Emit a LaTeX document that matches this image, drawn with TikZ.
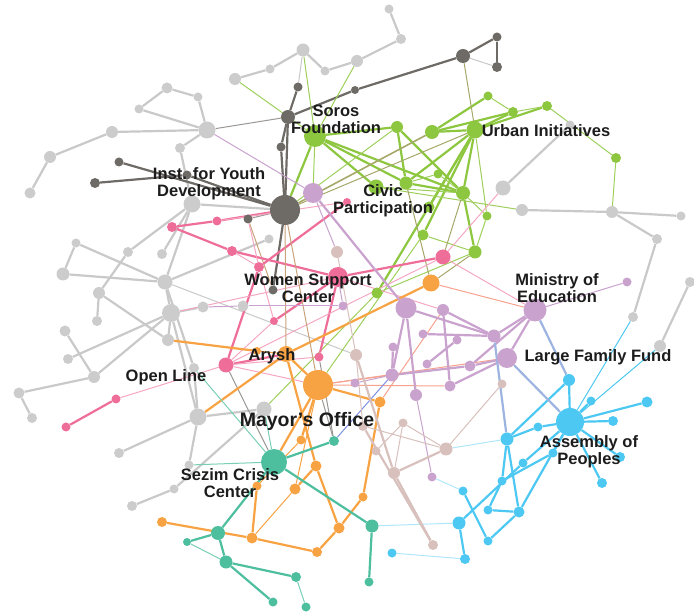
\documentclass[tikz,border=0pt]{standalone}
\usepackage{fontspec}
\setmainfont{Liberation Sans}
\pgfdeclarelayer{bg}
\pgfsetlayers{bg,main}
\definecolor{cgray}{HTML}{CCCCCC}
\definecolor{cgrayE}{HTML}{C9C9C9}
\definecolor{cdark}{HTML}{6E6A66}
\definecolor{cgreen}{HTML}{8DC63F}
\definecolor{cgreenL}{HTML}{B5DC86}
\definecolor{cpink}{HTML}{EE6D99}
\definecolor{cpinkL}{HTML}{F5A7C2}
\definecolor{cpurple}{HTML}{C9A2CE}
\definecolor{corange}{HTML}{F8A343}
\definecolor{csalmon}{HTML}{F6A28E}
\definecolor{cteal}{HTML}{4DBE9E}
\definecolor{cblue}{HTML}{4DC8F2}
\definecolor{cblueP}{HTML}{9DB4E0}
\definecolor{ctaupe}{HTML}{D8C0BC}
\definecolor{colive}{HTML}{A6A86A}
\definecolor{ctan}{HTML}{C8A27A}
\definecolor{ctext}{HTML}{1C1C1C}
\newcommand\mynd[5]{\node[dot,fill=#5,minimum size=#4pt] (#1) at (#2,#3) {};}
\tikzset{
  dot/.style={circle,inner sep=0pt,draw=none},
  thk/.style={line width=2.2pt},
  thn/.style={line width=1pt},
  lbl/.style={font=\bfseries\fontsize{16.5}{17}\selectfont,text=ctext,align=center,inner sep=0pt},
  lblbig/.style={font=\bfseries\fontsize{19.5}{20}\selectfont,text=ctext,align=center,inner sep=0pt}
}
\begin{document}
\begin{tikzpicture}[x=1pt,y=-1pt]
\useasboundingbox (0,0) rectangle (694,612);
% gray nodes
\mynd{g1}{303}{50}{13}{cgray}
\mynd{g2}{270}{69}{9}{cgray}
\mynd{g3}{325}{71}{9}{cgray}
\mynd{g4}{235}{79}{12}{cgray}
\mynd{g5}{167}{88}{11}{cgray}
\mynd{g6}{198}{97}{9}{cgray}
\mynd{g7}{139}{109}{9}{cgray}
\mynd{g8}{207}{130}{17}{cgray}
\mynd{g9}{112}{132}{12}{cgray}
\mynd{g10}{180}{148}{10}{cgray}
\mynd{g11}{50}{157}{12}{cgray}
\mynd{g12}{30}{193}{11}{cgray}
\mynd{g13}{192}{204}{17}{cgray}
\mynd{g14}{389}{9}{9}{cgray}
\mynd{g15}{401}{39}{10}{cgray}
\mynd{g16}{357}{61}{12}{cgray}
\mynd{g17}{570}{125}{9}{cgray}
\mynd{g18}{503}{188}{15}{cgray}
\mynd{g19}{522}{210}{12}{cgray}
\mynd{g20}{612}{212}{12}{cgray}
\mynd{g21}{681}{216}{9}{cgray}
\mynd{g22}{657}{239}{10}{cgray}
\mynd{g23}{633}{317}{10}{cgray}
\mynd{g24}{660}{346}{12}{cgray}
\mynd{g25}{690}{282}{10}{cgray}
\mynd{g26}{269}{239}{9}{cgray}
\mynd{g27}{128}{252}{10}{cgray}
\mynd{g28}{162}{254}{10}{cgray}
\mynd{g29}{76}{243}{9}{cgray}
\mynd{g30}{165}{282}{15}{cgray}
\mynd{g31}{63}{274}{13}{cgray}
\mynd{g32}{99}{293}{12}{cgray}
\mynd{g33}{171}{313}{18}{cgray}
\mynd{g34}{203}{307}{11}{cgray}
\mynd{g35}{243}{306}{11}{cgray}
\mynd{g36}{97}{321}{10}{cgray}
\mynd{g37}{65}{331}{11}{cgray}
\mynd{g38}{168}{340}{12}{cgray}
\mynd{g39}{68}{359}{10}{cgray}
\mynd{g40}{94}{377}{12}{cgray}
\mynd{g41}{194}{368}{10}{cgray}
\mynd{g42}{19}{393}{11}{cgray}
\mynd{g43}{32}{418}{10}{cgray}
\mynd{g44}{198}{417}{17}{cgray}
\mynd{g45}{264}{409}{15}{cgray}
\mynd{g46}{119}{453}{10}{cgray}
\mynd{g47}{189}{465}{9}{cgray}
\mynd{g48}{174}{489}{9}{cgray}
\mynd{g49}{132}{506}{10}{cgray}
% dark nodes
\mynd{d1}{463}{56}{14}{cdark}
\mynd{d2}{497}{37}{9}{cdark}
\mynd{d3}{497}{67}{10}{cdark}
\mynd{d4}{355}{90}{8}{cdark}
\mynd{d5}{298}{87}{9}{cdark}
\mynd{d6}{288}{117}{14}{cdark}
\mynd{d7}{281}{147}{9}{cdark}
\mynd{d8}{119}{162}{9}{cdark}
\mynd{d9}{95}{183}{10}{cdark}
\mynd{d10}{187}{175}{9}{cdark}
\mynd{d11}{285}{210}{30}{cdark}
\mynd{d12}{248}{219}{9}{cdark}
\mynd{d13}{273}{290}{9}{cdark}
% green nodes
\mynd{G1}{315}{136}{22}{cgreen}
\mynd{G2}{397}{127}{12}{cgreen}
\mynd{G3}{432}{132}{14}{cgreen}
\mynd{G4}{475}{130}{17}{cgreen}
\mynd{G5}{488}{96}{9}{cgreen}
\mynd{G6}{513}{112}{10}{cgreen}
\mynd{G7}{547}{106}{10}{cgreen}
\mynd{G8}{616}{158}{10}{cgreen}
\mynd{G9}{376}{187}{15}{cgreen}
\mynd{G10}{406}{183}{13}{cgreen}
\mynd{G11}{438}{174}{9}{cgreen}
\mynd{G12}{463}{193}{14}{cgreen}
\mynd{G13}{429}{207}{11}{cgreen}
\mynd{G14}{487}{216}{9}{cgreen}
\mynd{G15}{423}{235}{11}{cgreen}
\mynd{G16}{475}{252}{13}{cgreen}
\mynd{G17}{377}{293}{11}{cgreen}
% purple nodes
\mynd{P1}{313}{193}{20}{cpurple}
\mynd{P2}{343}{306}{9}{cpurple}
\mynd{P3}{406}{308}{21}{cpurple}
\mynd{P4}{443}{310}{12}{cpurple}
\mynd{P5}{535}{310}{23}{cpurple}
\mynd{P6}{627}{282}{9}{cpurple}
\mynd{P7}{423}{334}{9}{cpurple}
\mynd{P8}{457}{340}{9}{cpurple}
\mynd{P9}{494}{336}{13}{cpurple}
\mynd{P10}{393}{347}{9}{cpurple}
\mynd{P11}{507}{358}{20}{cpurple}
\mynd{P12}{427}{364}{9}{cpurple}
\mynd{P13}{470}{366}{11}{cpurple}
\mynd{P14}{392}{375}{13}{cpurple}
\mynd{P15}{355}{383}{9}{cpurple}
\mynd{P16}{450}{386}{11}{cpurple}
\mynd{P17}{416}{395}{12}{cpurple}
\mynd{P18}{432}{477}{9}{cpurple}
% pink nodes
\mynd{K1}{347}{202}{8}{cpink}
\mynd{K2}{217}{221}{9}{cpink}
\mynd{K3}{172}{227}{10}{cpink}
\mynd{K4}{232}{251}{10}{cpink}
\mynd{K5}{259}{267}{10}{cpink}
\mynd{K6}{338}{277}{20}{cpink}
\mynd{K7}{443}{257}{15}{cpink}
\mynd{K8}{274}{321}{8}{cpink}
\mynd{K9}{226}{365}{15}{cpink}
\mynd{K10}{319}{357}{9}{cpink}
\mynd{K11}{116}{399}{9}{cpink}
\mynd{K12}{66}{427}{9}{cpink}
% orange nodes
\mynd{O1}{431}{283}{17}{corange}
\mynd{O2}{286}{354}{16}{corange}
\mynd{O3}{257}{351}{8}{corange}
\mynd{O4}{318}{385}{30}{corange}
\mynd{O5}{380}{402}{11}{corange}
\mynd{O6}{301}{440}{9}{corange}
\mynd{O7}{316}{466}{11}{corange}
\mynd{O8}{257}{486}{9}{corange}
\mynd{O9}{295}{489}{11}{corange}
\mynd{O10}{363}{497}{9}{corange}
\mynd{O11}{339}{528}{11}{corange}
\mynd{O12}{162}{522}{10}{corange}
\mynd{O13}{252}{538}{11}{corange}
\mynd{O14}{317}{552}{10}{corange}
% teal nodes
\mynd{T1}{274}{462}{26}{cteal}
\mynd{T2}{334}{441}{10}{cteal}
\mynd{T3}{372}{526}{13}{cteal}
\mynd{T4}{218}{533}{14}{cteal}
\mynd{T5}{187}{542}{8}{cteal}
\mynd{T6}{226}{562}{13}{cteal}
\mynd{T7}{296}{577}{10}{cteal}
\mynd{T8}{273}{602}{9}{cteal}
\mynd{T9}{306}{607}{9}{cteal}
\mynd{T10}{369}{582}{9}{cteal}
% taupe nodes
\mynd{U1}{337}{252}{12}{ctaupe}
\mynd{U2}{356}{355}{12}{ctaupe}
\mynd{U3}{502}{384}{9}{ctaupe}
\mynd{U4}{403}{423}{9}{ctaupe}
\mynd{U5}{446}{449}{13}{ctaupe}
\mynd{U6}{376}{451}{9}{ctaupe}
\mynd{U7}{394}{473}{12}{ctaupe}
\mynd{U8}{433}{545}{10}{ctaupe}
\mynd{U9}{363}{426}{10}{ctaupe}
% blue nodes
\mynd{B1}{569}{380}{12}{cblue}
\mynd{B2}{591}{401}{9}{cblue}
\mynd{B3}{647}{402}{11}{cblue}
\mynd{B4}{570}{422}{28}{cblue}
\mynd{B5}{613}{421}{10}{cblue}
\mynd{B6}{538}{427}{9}{cblue}
\mynd{B7}{507}{439}{13}{cblue}
\mynd{B8}{553}{453}{9}{cblue}
\mynd{B9}{620}{457}{10}{cblue}
\mynd{B10}{523}{463}{9}{cblue}
\mynd{B11}{602}{483}{10}{cblue}
\mynd{B12}{502}{481}{9}{cblue}
\mynd{B13}{463}{491}{9}{cblue}
\mynd{B14}{488}{510}{9}{cblue}
\mynd{B15}{519}{512}{11}{cblue}
\mynd{B16}{459}{523}{13}{cblue}
\mynd{B17}{488}{541}{9}{cblue}
\mynd{B18}{392}{553}{9}{cblue}
\mynd{B19}{465}{559}{10}{cblue}

\begin{pgfonlayer}{bg}
% gray edges
\foreach \a/\b in {g4/g2,g2/g1,g1/g3,g3/g16,g16/g15,g15/g14,g5/g6,g6/g8,g7/g5,g7/g8,g8/g9,g9/g11,g11/g12,g8/g10,g10/g13,g13/d11,g13/g27,g27/g32,g13/g28,g13/g30,g29/g31,g29/g30,g31/g30,g32/g36,g32/g38,g30/g26,g30/g33,g30/g41,g33/g34,g33/g39,g33/g40,g37/g40,g42/g40,g42/g43,g33/g38,g33/g44,g44/g46,g44/g47,g45/g48,g48/g49,g41/g44,g18/g17,g19/g20,g20/g21,g20/g22,g22/g23,g24/g25,g44/g45}
  \draw[cgrayE,thk] (\a)--(\b);
\foreach \a/\b in {g1/d5,d1/d3,g30/U2}
  \draw[cgrayE,thn] (\a)--(\b);
% dark edges
\foreach \a/\b in {d1/d4,d4/d6,d1/d2,d2/d3,d5/d6,d6/d7,d7/d11,d6/d11,d8/d11,d9/d10,d10/d11,d11/d13}
  \draw[cdark,thk] (\a)--(\b);
\foreach \a/\b in {g8/d6,d11/d12,K9/T1,K10/T2,O4/T2}
  \draw[cdark!70,thn] (\a)--(\b);
\draw[ctan,thn] (d12)--(d13);
% green edges
\foreach \a/\b in {G1/G2,G1/G12,G1/G10,G2/G10,G2/G12,G3/G4,G3/G5,G3/G6,G4/G6,G4/G7,G4/G12,G4/G10,G4/G13,G4/G15,G4/G17,G12/G16,G10/G12,G1/d11,G1/G9}
  \draw[cgreen,thk] (\a)--(\b);
\foreach \a/\b in {G5/G6,G6/G7,G7/G8,G8/g20,G9/g19,G10/G11,G11/G12,G12/G14,G14/G16,G15/G16,G4/G14,G9/G12,g16/G1,g4/G1,g1/G1,G15/O4,g45/G17,G17/G16,G1/P1,d11/G2}
  \draw[cgreen!85,thn] (\a)--(\b);
\draw[colive,line width=1.6pt] (d11)--(G3);
\foreach \a/\b in {d11/G4,d1/G4,G10/O1,G12/K7,G16/O1}
  \draw[colive,thn] (\a)--(\b);
% pink edges
\foreach \a/\b in {K3/K2,K2/d11,K3/K4,K4/K6,K5/K9,K6/K10,K6/K7,K9/O2,K11/K12,K5/K1,K8/K6}
  \draw[cpink,thk] (\a)--(\b);
\foreach \a/\b in {K9/K11,K9/K7,K7/g18,K7/P5,K9/O4,K9/K10,g33/K6,K8/K5,K1/K2,K6/P4,K5/K4,K8/K9,K5/d12}
  \draw[cpinkL,thn] (\a)--(\b);
% orange edges
\foreach \a/\b in {O2/O4,O4/O5,O5/O10,O10/O11,O11/O14,O14/O13,O13/O12,O13/O8,O2/O7,O7/O11,O4/T1,O4/O6,O2/O1,O9/O7,O3/g38,g44/O2}
  \draw[corange,thk] (\a)--(\b);
\foreach \a/\b in {O4/O9,O9/O13,O8/O6,O3/O2}
  \draw[corange,thn] (\a)--(\b);
\foreach \a/\b in {O1/P5,O5/P4,O4/P14,O4/P11,O4/P16}
  \draw[csalmon,thn] (\a)--(\b);
\foreach \a/\b in {d11/O2,d11/O4}
  \draw[ctan,thn] (\a)--(\b);
% purple edges
\foreach \a/\b in {P1/P3,P3/P9,P3/P14,P3/P17,P4/P9,P4/P16,P5/P9,P5/P11,P5/P13,P7/P9,P8/P12,P13/P14,P13/P11,P16/P11,P10/P14}
  \draw[cpurple,thk] (\a)--(\b);
\foreach \a/\b in {P5/P6,P17/P18,g34/g35,g35/P2,g8/P1,P1/U1,K6/P2,P14/P15}
  \draw[cpurple,thn] (\a)--(\b);
% blue edges
\foreach \a/\b in {B1/B4,B1/B7,B4/B2,B4/B3,B4/B5,B4/B9,B4/B11,B4/B6,B6/B7,B4/B10,B10/B16,B4/B15,B4/B8,B8/B12,B7/B12,B7/B15,B12/B14,B14/B15,B17/B15,B13/B17,B16/B19}
  \draw[cblue,thk] (\a)--(\b);
\foreach \a/\b in {P5/B1,P11/B4,P9/B7}
  \draw[cblueP,thk] (\a)--(\b);
\foreach \a/\b in {g23/B4,g24/B4}
  \draw[cblue,thn] (\a)--(\b);
\foreach \a/\b in {B7/U5,B16/T3,B18/B19,P18/B13}
  \draw[cblue!45,thn] (\a)--(\b);
\draw[cblueP!80!blue,thn] (T2)--(P14);
% teal edges
\foreach \a/\b in {T1/T2,T1/T3,T1/T4,T3/T10,T4/T5,T4/T6,T6/T7,T6/T8}
  \draw[cteal,thk] (\a)--(\b);
\foreach \a/\b in {T5/T6,T7/T9,T1/g47,T1/g45,T1/g41}
  \draw[cteal!75,thn] (\a)--(\b);
% taupe edges
\foreach \a/\b in {U2/U7,U7/U8,U9/U8,U7/U5}
  \draw[ctaupe,thk] (\a)--(\b);
\foreach \a/\b in {U1/U2,U2/U9,U9/U5,U4/U6,U4/U7,U5/U3,U4/U5}
  \draw[ctaupe,thn] (\a)--(\b);
\end{pgfonlayer}

% labels
\node[lbl] (lSoros) at (336,119.5) {Soros\\Foundation};
\node[lbl] (lInst) at (209,183.5) {Inst. for Youth\\Development};
\node[lbl] (lCivic) at (383,201) {Civic\\Participation};
\node[lbl] (lUrban) at (546,131) {Urban Initiatives};
\node[lbl] (lWomen) at (308,288.5) {Women Support\\Center};
\node[lbl] (lMin) at (557,288) {Ministry of\\Education};
\node[lbl] (lLarge) at (598,357) {Large Family Fund};
\node[lbl] (lArysh) at (272,356) {Arysh};
\node[lbl] (lOpen) at (166,377) {Open Line};
\node[lblbig] (lMayor) at (307,421) {Mayor\char"0027 s Office};
\node[lbl] (lSezim) at (230,483) {Sezim Crisis\\Center};
\node[lbl] (lAssembly) at (589,452) {Assembly of\\Peoples};
\end{tikzpicture}
\end{document}
